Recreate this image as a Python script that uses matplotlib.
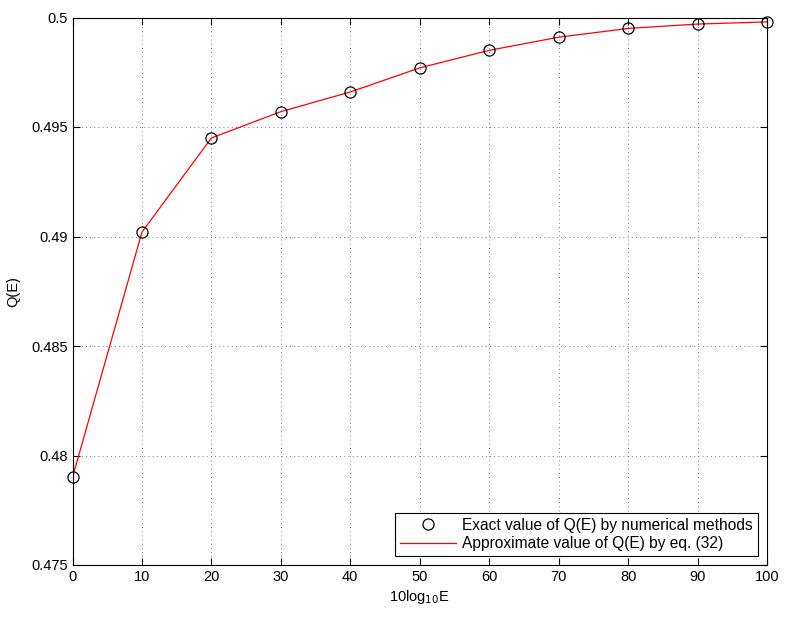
import matplotlib
matplotlib.use("Agg")
import matplotlib.pyplot as plt

x_vals = [0, 10, 20, 30, 40, 50, 60, 70, 80, 90, 100]
q_exact = [0.4790, 0.4902, 0.4945, 0.4957, 0.4966, 0.4977, 0.4985, 0.4991, 0.4995, 0.4997, 0.4998]
q_approx = [0.4790, 0.4902, 0.4945, 0.4957, 0.4966, 0.4977, 0.4985, 0.4991, 0.4995, 0.4997, 0.4998]
x_ticks = [0, 10, 20, 30, 40, 50, 60, 70, 80, 90, 100]
y_ticks = [0.475, 0.48, 0.485, 0.49, 0.495, 0.5]
y_labels = ["0.475", "0.48", "0.485", "0.49", "0.495", "0.5"]

plt.rcParams['font.family'] = ['Liberation Sans', 'DejaVu Sans']
plt.rcParams['font.size'] = 10.5

fig = plt.figure(figsize=(7.86, 6.18), dpi=100)
ax = fig.add_axes([72.5/786, 1 - 565/618, (767 - 72.5)/786, (565 - 17.5)/618])

ax.plot(x_vals, q_exact, linestyle='none', marker='o', markersize=8,
        markerfacecolor='none', markeredgecolor='black', markeredgewidth=0.9,
        label='Exact value of Q(E) by numerical methods', zorder=3, clip_on=False)
ax.plot(x_vals, q_approx, color='red', linewidth=0.9,
        label='Approximate value of Q(E) by eq. (32)', zorder=2)

ax.set_xlim(0, 100)
ax.set_ylim(0.475, 0.5)
ax.set_xticks(x_ticks)
ax.set_yticks(y_ticks)
ax.set_yticklabels(y_labels)
ax.tick_params(direction='in', length=5, width=0.8, top=True, right=True)
ax.grid(True, linestyle=(0, (1, 4)), color='#555555', linewidth=0.6)
for s in ax.spines.values():
    s.set_linewidth(0.8)

ax.set_xlabel('10log$_{10}$E', labelpad=3)
ax.set_ylabel('Q(E)', labelpad=8)

leg = ax.legend(loc='lower right', fancybox=False, edgecolor='black',
                framealpha=1, borderaxespad=0.6, handlelength=3.6,
                borderpad=0.3, labelspacing=0.2, handletextpad=0.4, fontsize=11.2)
leg.get_frame().set_linewidth(0.8)

fig.savefig('out.png', dpi=100)
